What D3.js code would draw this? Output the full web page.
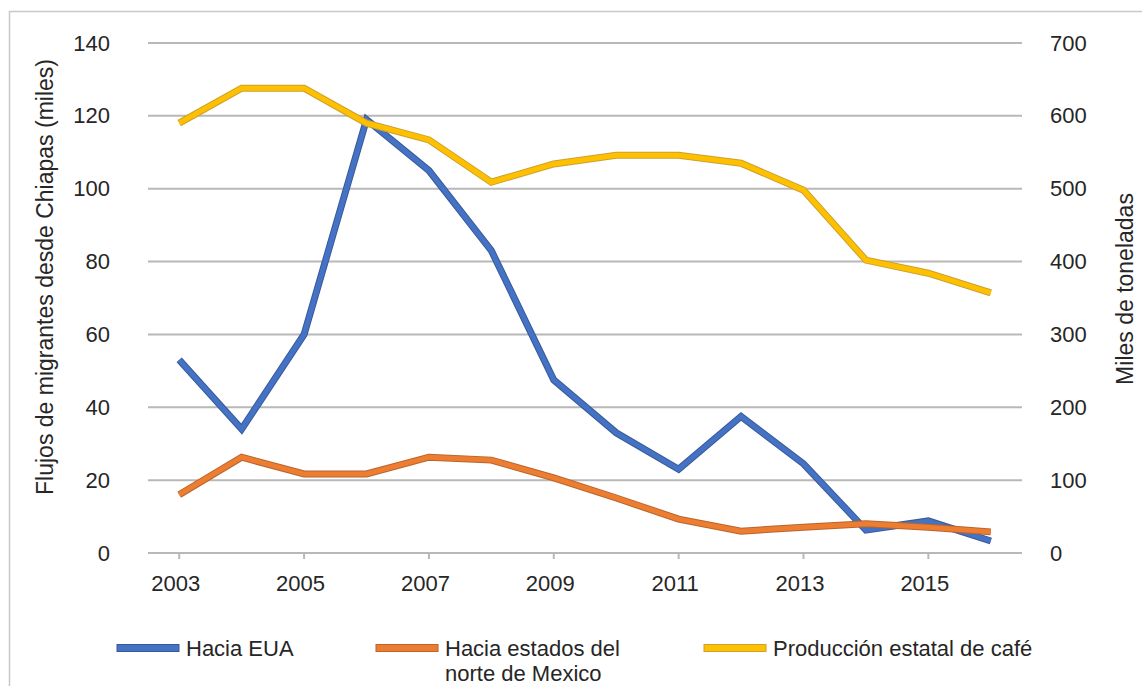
<!DOCTYPE html>
<html>
<head>
<meta charset="utf-8">
<script src="https://cdn.jsdelivr.net/npm/d3@7"></script>
<style>
  body { margin: 0; background: #fff; }
  text { font-family: "Liberation Sans", Arial, sans-serif; fill: #262626; }
</style>
</head>
<body>
<div id="chart"></div>
<script>
const years = [2003,2004,2005,2006,2007,2008,2009,2010,2011,2012,2013,2014,2015,2016];
const haciaEUA = [53,34,60,119,105,83,47.5,33,23,37.5,24.5,6.3,8.8,3.3];
const haciaNorte = [16,26.3,21.7,21.7,26.3,25.5,20.6,15.1,9.3,6,7.1,8,7.1,5.8];
const cafe = [590,638,638,590,567,509,534,546,546,535,498,402,384,357];
const leftTicks = [0,20,40,60,80,100,120,140];
const rightTicks = [0,100,200,300,400,500,600,700];
const xLabels = [2003,2005,2007,2009,2011,2013,2015];

const W = 1142, H = 686;
const m = {left:148, right:120, top:43, bottom:133};

const svg = d3.select("#chart").append("svg")
  .attr("width", W)
  .attr("height", H);

// outer frame (right/bottom edges sit outside the picture)
svg.append("rect")
  .attr("x", 9.5).attr("y", 11.5)
  .attr("width", W).attr("height", H)
  .attr("fill", "none")
  .attr("stroke", "#c8c8c8")
  .attr("stroke-width", 1.5);

const x = d3.scalePoint()
  .domain(years)
  .range([m.left, W - m.right])
  .padding(0.5);

const yL = d3.scaleLinear().domain([0,140]).range([H - m.bottom, m.top]);
const yR = d3.scaleLinear().domain([0,700]).range([H - m.bottom, m.top]);

// gridlines
svg.append("g")
  .selectAll("line")
  .data(leftTicks)
  .enter().append("line")
  .attr("x1", m.left).attr("x2", W - m.right)
  .attr("y1", d => yL(d)).attr("y2", d => yL(d))
  .attr("stroke", "#b8b8b8")
  .attr("stroke-width", 2);

// x tick marks
svg.append("g")
  .selectAll("line")
  .data(xLabels)
  .enter().append("line")
  .attr("x1", d => x(d)).attr("x2", d => x(d))
  .attr("y1", yL(0)).attr("y2", yL(0) + 6)
  .attr("stroke", "#b8b8b8")
  .attr("stroke-width", 2);

// axes labels via d3 axes, domain hidden
const leftAxis = svg.append("g")
  .attr("transform", `translate(${m.left - 38},0)`)
  .call(d3.axisLeft(yL).tickValues(leftTicks).tickSize(0).tickPadding(0));
const rightAxis = svg.append("g")
  .attr("transform", `translate(${W - m.right + 28},0)`)
  .call(d3.axisRight(yR).tickValues(rightTicks).tickSize(0).tickPadding(0));
const bottomAxis = svg.append("g")
  .attr("transform", `translate(-4,${yL(0) + 22})`)
  .call(d3.axisBottom(x).tickValues(xLabels).tickSize(0).tickPadding(0).tickFormat(d3.format("d")));

[leftAxis, rightAxis, bottomAxis].forEach(a => {
  a.select(".domain").remove();
  a.selectAll("text")
    .style("font-family", '"Liberation Sans", Arial, sans-serif')
    .style("font-size", "22px")
    .attr("fill", "#262626");
});
bottomAxis.selectAll("text").attr("dy", "0.71em");

// axis titles
svg.append("text")
  .attr("transform", `translate(53,277) rotate(-90)`)
  .attr("text-anchor", "middle")
  .style("font-size", "23px")
  .text("Flujos de migrantes desde Chiapas (miles)");

svg.append("text")
  .attr("transform", `translate(1133,289) rotate(-90)`)
  .attr("text-anchor", "middle")
  .style("font-size", "23px")
  .text("Miles de toneladas");

// series
const series = [
  {name:"Hacia EUA", values:haciaEUA, y:yL, color:"#4472c4", edge:"#3b5a98"},
  {name:"Hacia estados del|norte de Mexico", values:haciaNorte, y:yL, color:"#ed7d31", edge:"#b8652e"},
  {name:"Producción estatal de café", values:cafe, y:yR, color:"#ffc000", edge:"#caa030"}
];

series.forEach(s => {
  const line = d3.line()
    .x((d,i) => x(years[i]))
    .y(d => s.y(d));
  svg.append("path")
    .datum(s.values)
    .attr("d", line)
    .attr("fill", "none")
    .attr("stroke", s.edge)
    .attr("stroke-width", 7)
    .attr("stroke-linejoin", "miter");
  svg.append("path")
    .datum(s.values)
    .attr("d", line)
    .attr("fill", "none")
    .attr("stroke", s.color)
    .attr("stroke-width", 5)
    .attr("stroke-linejoin", "miter");
});

// legend
const legendX = [117, 376, 704];
const legend = svg.append("g");
series.forEach((s, i) => {
  const g = legend.append("g").attr("transform", `translate(${legendX[i]},648)`);
  g.append("rect")
    .attr("x", 0).attr("y", -3.5)
    .attr("width", 62).attr("height", 7)
    .attr("fill", s.color)
    .attr("stroke", s.edge)
    .attr("stroke-width", 1);
  s.name.split("|").forEach((part, j) => {
    g.append("text")
      .attr("x", 69)
      .attr("y", j * 25)
      .attr("dy", "0.36em")
      .style("font-size", "22px")
      .text(part);
  });
});
</script>
</body>
</html>
